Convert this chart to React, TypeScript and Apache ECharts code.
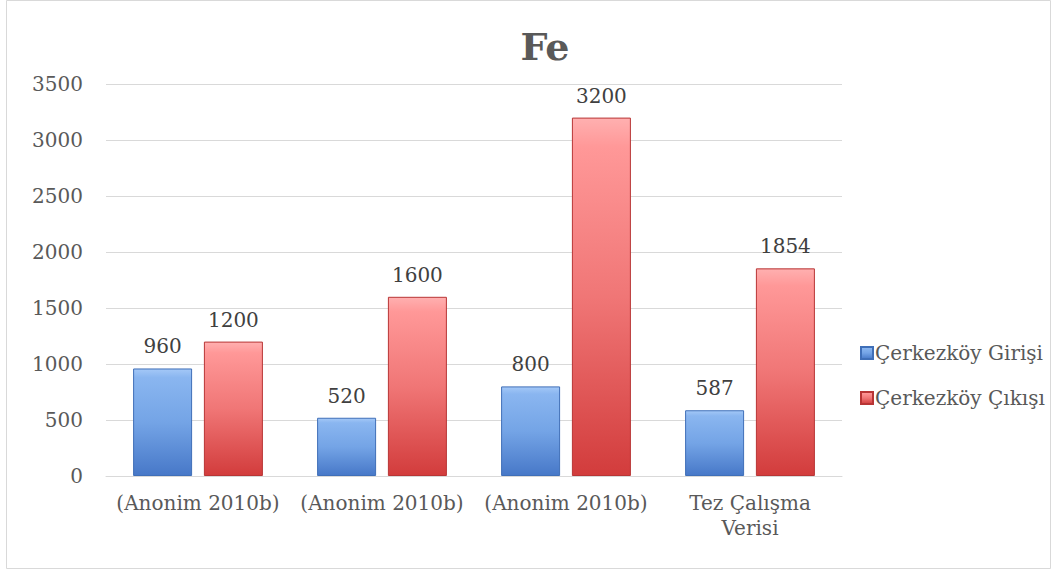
import React, { useEffect, useRef } from "react";
import * as echarts from "echarts";

const categories = ["(Anonim 2010b)", "(Anonim 2010b)", "(Anonim 2010b)", "Tez Çalışma\nVerisi"];
const girisValues = [960, 520, 800, 587];
const cikisValues = [1200, 1600, 3200, 1854];
const seriesNames = ["Çerkezköy Girişi", "Çerkezköy Çıkışı"];
const titleText = "Fe";

const FONT = "DejaVu Serif";

export default function App() {
  const ref = useRef<HTMLDivElement>(null);
  useEffect(() => {
    const chart = echarts.init(ref.current!, null, { renderer: "svg" });
    const blueGrad = new echarts.graphic.LinearGradient(0, 0, 0, 1, [
      { offset: 0, color: "#a4c8f7" },
      { offset: 0.08, color: "#8ab6f0" },
      { offset: 0.5, color: "#74a4e6" },
      { offset: 1, color: "#4778c8" },
    ]);
    const redGrad = new echarts.graphic.LinearGradient(0, 0, 0, 1, [
      { offset: 0, color: "#ffb0b0" },
      { offset: 0.08, color: "#ff9898" },
      { offset: 0.5, color: "#f07676" },
      { offset: 1, color: "#d23c3c" },
    ]);
    chart.setOption({
      animation: false,
      backgroundColor: "#ffffff",
      title: {
        text: titleText,
        left: 540,
        top: 22,
        textAlign: "center",
        textStyle: { fontFamily: FONT, fontSize: 38, fontWeight: "bold", color: "#595959" },
      },
      legend: {
        orient: "vertical",
        left: 855,
        top: 338,
        itemWidth: 12,
        itemHeight: 12,
        itemGap: 25,
        icon: "rect",
        textStyle: { fontFamily: FONT, fontSize: 20, color: "#595959", padding: [0, 0, 0, -3] },
        data: seriesNames,
      },
      grid: { left: 106, right: 210, top: 84, bottom: 96, containLabel: false },
      xAxis: {
        type: "category",
        data: categories,
        axisLine: { show: true, lineStyle: { color: "#d9d9d9" } },
        axisTick: { show: false },
        axisLabel: {
          fontFamily: FONT,
          fontSize: 20,
          color: "#595959",
          margin: 14,
          lineHeight: 25,
          interval: 0,
        },
      },
      yAxis: {
        type: "value",
        min: 0,
        max: 3500,
        interval: 500,
        axisLine: { show: false },
        axisTick: { show: false },
        axisLabel: {
          fontFamily: FONT,
          fontSize: 20,
          color: "#595959",
          margin: 23,
          formatter: (v: number) => String(v),
        },
        splitLine: { lineStyle: { color: "#d9d9d9", width: 1 } },
      },
      series: [
        {
          name: seriesNames[0],
          type: "bar",
          data: girisValues,
          barWidth: 59,
          barGap: "20%",
          itemStyle: { color: blueGrad, borderColor: "#3f6fb8", borderWidth: 1 },
          label: {
            show: true,
            position: "top",
            distance: 12,
            fontFamily: FONT,
            fontSize: 20,
            color: "#404040",
          },
        },
        {
          name: seriesNames[1],
          type: "bar",
          data: cikisValues,
          barWidth: 59,
          itemStyle: { color: redGrad, borderColor: "#b83535", borderWidth: 1 },
          label: {
            show: true,
            position: "top",
            distance: 12,
            fontFamily: FONT,
            fontSize: 20,
            color: "#404040",
          },
        },
      ],
      graphic: [
        {
          type: "rect",
          shape: { x: 6.5, y: 0.5, width: 1044, height: 568 },
          style: { fill: "none", stroke: "#d9d9d9", lineWidth: 1 },
          silent: true,
          z: 100,
        },
      ],
    });
    return () => chart.dispose();
  }, []);
  return (
    <div
      ref={ref}
      style={{ position: "fixed", left: 0, top: 0, width: 1052, height: 572 }}
    />
  );
}
